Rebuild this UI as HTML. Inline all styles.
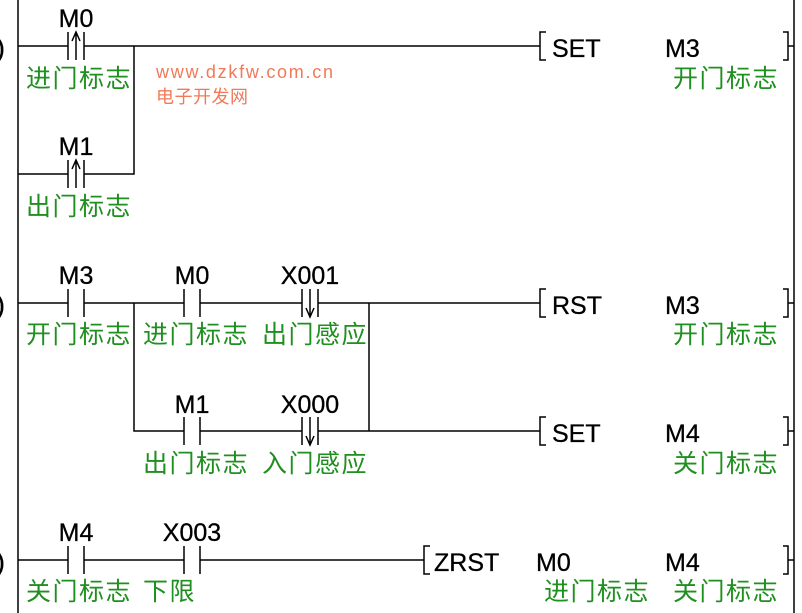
<!DOCTYPE html>
<html><head><meta charset="utf-8"><style>
html,body{margin:0;padding:0;background:#fff;}
svg{display:block;}
.l{font-family:"Liberation Sans",sans-serif;font-size:25px;fill:#000;stroke:#000;stroke-width:0.3;}
.c{font-family:"Liberation Sans","Noto Sans CJK SC",sans-serif;font-size:25px;fill:#1f8f1f;letter-spacing:1.5px;}
.w{font-family:"Liberation Sans","Noto Sans CJK SC",sans-serif;fill:#f07a58;}
</style></head><body>
<svg width="802" height="613" viewBox="0 0 802 613" xmlns="http://www.w3.org/2000/svg">
<g stroke="#000" stroke-width="1.5" fill="none">
<line x1="18" y1="0" x2="18" y2="613"/>
<line x1="794" y1="0" x2="794" y2="613"/>
<path d="M18,46H68M84,46H540M18,174H68M84,174H134V46"/>
<path d="M68,32V60M84,32V60M76,60V32M72,41L76,32L80,41"/>
<path d="M68,160V188M84,160V188M76,188V160M72,169L76,160L80,169"/>
<path d="M546,32H540V60H546"/>
<path d="M783,32H788V60H783M788,46H794"/>
<path d="M18,303H68M84,303H184M200,303H302M318,303H540"/>
<path d="M134,303V431H184M200,431H302M318,431H540M369,303V431"/>
<path d="M68,289V317M84,289V317M184,289V317M200,289V317"/>
<path d="M302,289V317M318,289V317M310,289V317M306,308L310,317L314,308"/>
<path d="M184,417V445M200,417V445"/>
<path d="M302,417V445M318,417V445M310,417V445M306,436L310,445L314,436"/>
<path d="M546,289H540V317H546"/>
<path d="M783,289H788V317H783M788,303H794"/>
<path d="M546,417H540V445H546"/>
<path d="M783,417H788V445H783M788,431H794"/>
<path d="M18,560H68M84,560H184M200,560H424"/>
<path d="M68,546V574M84,546V574M184,546V574M200,546V574"/>
<path d="M430,546H424V574H430"/>
<path d="M783,546H788V574H783M788,560H794"/>
</g>
<g class="l">
<text x="-4" y="57" font-size="27">)</text>
<text x="-4" y="314" font-size="27">)</text>
<text x="-4" y="571" font-size="27">)</text>
<text x="76" y="27" text-anchor="middle">M0</text>
<text x="76" y="155" text-anchor="middle">M1</text>
<text x="76" y="284" text-anchor="middle">M3</text>
<text x="192" y="284" text-anchor="middle">M0</text>
<text x="310" y="284" text-anchor="middle">X001</text>
<text x="192" y="413" text-anchor="middle">M1</text>
<text x="310" y="413" text-anchor="middle">X000</text>
<text x="76" y="541" text-anchor="middle">M4</text>
<text x="192" y="541" text-anchor="middle">X003</text>
<text x="552" y="57">SET</text><text x="665" y="57">M3</text>
<text x="552" y="314">RST</text><text x="665" y="314">M3</text>
<text x="552" y="442">SET</text><text x="665" y="442">M4</text>
<text x="434" y="571">ZRST</text><text x="536" y="571">M0</text><text x="665" y="571">M4</text>
</g>
<g class="c">
<text x="26" y="87">进门标志</text>
<text x="26" y="215">出门标志</text>
<text x="26" y="343">开门标志</text>
<text x="143" y="343">进门标志</text>
<text x="262" y="343">出门感应</text>
<text x="143" y="472">出门标志</text>
<text x="262" y="472">入门感应</text>
<text x="26" y="600">关门标志</text>
<text x="143" y="600">下限</text>
<text x="673" y="87">开门标志</text>
<text x="673" y="343">开门标志</text>
<text x="673" y="472">关门标志</text>
<text x="544" y="600">进门标志</text>
<text x="673" y="600">关门标志</text>
</g>
<text class="w" x="156" y="78" font-size="18" textLength="177">www.dzkfw.com.cn</text>
<text class="w" x="156" y="103" font-size="18" textLength="92">电子开发网</text>
</svg>
</body></html>
